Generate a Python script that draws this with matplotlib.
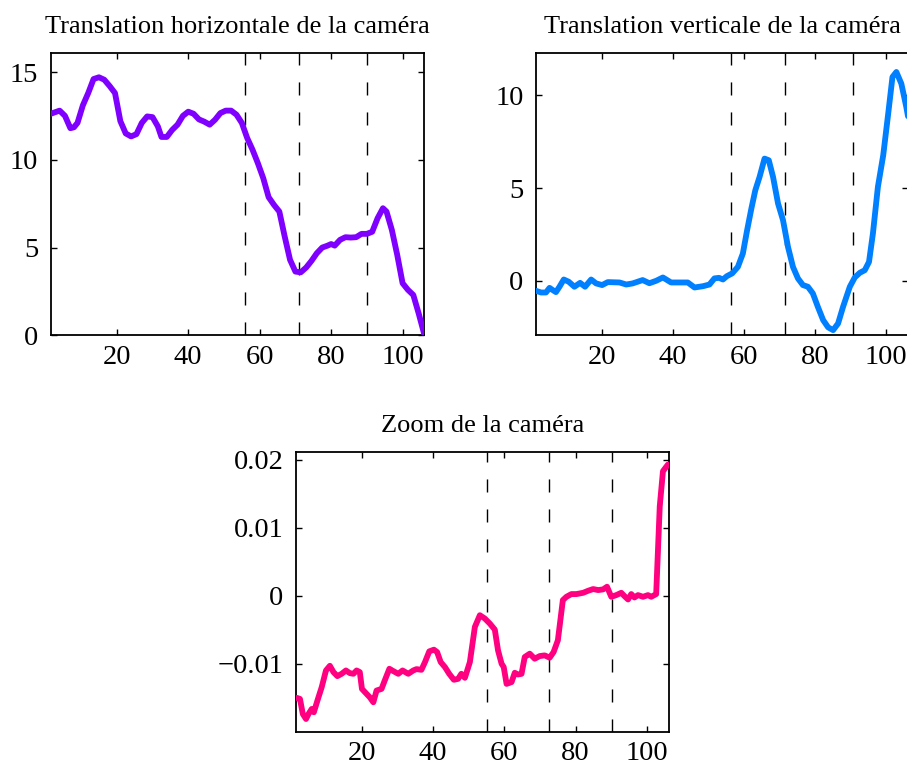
import matplotlib
matplotlib.use("Agg")
import matplotlib.pyplot as plt

plt.rcParams['font.family'] = ['Liberation Serif', 'DejaVu Serif']

# ---------------- data ----------------
titles = ["Translation horizontale de la caméra",
          "Translation verticale de la caméra",
          "Zoom de la caméra"]

x_h = [1.5, 4, 5.5, 7, 8, 9, 10.5, 12, 13.5, 15, 16.5, 18, 19.5, 21, 22.5, 24, 25.5,
       27, 28.5, 30, 31.5, 32.5, 34, 35.5, 37, 38.5, 40, 41.5, 43, 44.5, 46, 47.5, 49,
       50.5, 52, 53.5, 55, 56.5, 58, 59.5, 61, 62.5, 64, 65.5, 67, 68.5, 70, 71.5, 73,
       74.5, 76, 77.5, 79, 80, 81, 82.5, 84, 85.5, 87, 88.5, 90, 91.5, 93, 94.5, 95.5,
       97, 98.5, 100, 101.5, 103, 104.5, 106]
y_h = [12.62, 12.8, 12.5, 11.8, 11.85, 12.1, 13.1, 13.8, 14.6, 14.7, 14.56, 14.2, 13.8,
       12.2, 11.5, 11.33, 11.46, 12.1, 12.47, 12.43, 11.9, 11.3, 11.3, 11.7, 12.0, 12.5,
       12.74, 12.62, 12.3, 12.17, 12.0, 12.28, 12.66, 12.8, 12.8, 12.57, 12.1, 11.24,
       10.57, 9.8, 8.95, 7.87, 7.43, 7.05, 5.63, 4.3, 3.63, 3.59, 3.86, 4.24, 4.68, 5.0,
       5.11, 5.2, 5.11, 5.44, 5.59, 5.57, 5.59, 5.78, 5.78, 5.9, 6.67, 7.24, 7.05, 6.0,
       4.58, 2.97, 2.59, 2.3, 1.25, 0.11]

x_v = [1.5, 2.9, 4.3, 5.3, 6.2, 7.1, 8.1, 9.3, 10.7, 12.3, 13.9, 15.3, 17.0, 18.4, 20.1,
       21.7, 25.0, 26.9, 28.7, 31.5, 33.4, 35.3, 37.2, 39.5, 41.9, 44.2, 46.1, 48.5, 50.3,
       51.7, 53.0, 54.1, 55.2, 56.7, 58.3, 59.7, 60.9, 62.1, 63.2, 64.4, 65.8, 67.0, 68.2,
       69.6, 71.0, 72.4, 73.8, 75.2, 76.6, 78.0, 79.4, 80.8, 82.3, 83.7, 85.1, 86.5, 87.9,
       89.8, 91.2, 92.6, 94.0, 95.2, 96.3, 97.7, 99.2, 100.6, 101.8, 102.9, 104.3, 105.7,
       107.0]
y_v = [-0.54, -0.63, -0.63, -0.38, -0.5, -0.61, -0.32, 0.07, -0.05, -0.32, -0.11, -0.32,
       0.07, -0.14, -0.23, -0.07, -0.09, -0.2, -0.14, 0.04, -0.13, 0.0, 0.18, -0.09, -0.09,
       -0.09, -0.36, -0.29, -0.2, 0.13, 0.16, 0.07, 0.25, 0.4, 0.75, 1.47, 2.73, 3.9, 4.88,
       5.6, 6.59, 6.5, 5.6, 4.17, 3.27, 1.83, 0.75, 0.13, -0.23, -0.32, -0.68, -1.4, -2.12,
       -2.51, -2.66, -2.3, -1.4, -0.32, 0.18, 0.43, 0.57, 1.02, 2.55, 5.06, 6.77, 9.01,
       10.99, 11.26, 10.63, 9.37, 8.0]

x_z = [1.7, 2.6, 3.4, 4.3, 5.0, 5.9, 6.5, 7.5, 8.7, 9.9, 11.0, 12.0, 13.1, 14.3, 15.5,
       16.6, 17.6, 18.5, 19.4, 20.0, 21.3, 22.2, 23.2, 24.1, 25.5, 26.4, 27.7, 28.8, 30.2,
       31.4, 33.0, 34.4, 35.3, 36.7, 37.7, 38.9, 40.2, 41.1, 42.1, 43.3, 44.5, 45.8, 47.0,
       47.9, 48.9, 50.3, 51.7, 53.1, 54.5, 55.9, 57.3, 58.2, 59.2, 59.8, 60.6, 62.0, 62.9,
       63.8, 64.8, 65.7, 67.1, 68.5, 69.9, 71.3, 72.7, 73.8, 75.0, 75.7, 76.4, 77.4, 78.8,
       80.2, 82.1, 83.5, 84.9, 86.3, 87.7, 88.8, 90.0, 91.4, 92.8, 93.7, 94.7, 95.6, 96.5,
       97.5, 98.9, 100.3, 101.2, 102.6, 103.6, 104.5, 105.9]
y_z = [-0.01502, -0.01517, -0.01739, -0.01813, -0.01739, -0.01665, -0.01714, -0.01542,
       -0.01345, -0.01099, -0.0103, -0.01123, -0.01182, -0.01148, -0.01099, -0.01138,
       -0.01148, -0.01099, -0.01123, -0.0137, -0.01443, -0.01493, -0.01567, -0.01394,
       -0.0137, -0.01246, -0.01074, -0.01108, -0.01148, -0.01099, -0.01148, -0.01099,
       -0.01079, -0.01089, -0.00975, -0.00818, -0.00793, -0.00828, -0.00975, -0.01049,
       -0.01148, -0.01236, -0.01222, -0.01148, -0.01207, -0.00975, -0.00458, -0.00286,
       -0.00335, -0.00409, -0.00498, -0.00803, -0.01, -0.01049, -0.01296, -0.0127,
       -0.01133, -0.01158, -0.01148, -0.00901, -0.00852, -0.00926, -0.00887, -0.00877,
       -0.00911, -0.00828, -0.00655, -0.0036, -0.00064, -0.00015, 0.00025, 0.00025,
       0.00044, 0.00074, 0.00099, 0.00084, 0.00094, 0.00133, -0.00015, 0.0001, 0.00044,
       -0.00005, -0.00054, 0.00025, -0.00025, 0.0001, -0.00015, 0.0001, -0.00015, 0.00025,
       0.01315, 0.01833, 0.01931]

events_h = [56, 71, 90]
events_v = [56.3, 71.6, 90.7]
events_z = [55, 72.6, 90.2]

xticks = [20, 40, 60, 80, 100]
yticks_h = [0, 5, 10, 15]
yticks_v = [0, 5, 10]
yticks_z = [-0.01, 0, 0.01, 0.02]
yticklabels_z = ["\u22120.01", "0", "0.01", "0.02"]

colors = ["#8000FF", "#0080FF", "#FF0080"]

# ---------------- figure ----------------
fig = plt.figure(figsize=(9.07, 7.67), dpi=100)
ax1 = fig.add_axes([0.0559, 0.5628, 0.4116, 0.3685])
ax2 = fig.add_axes([0.5910, 0.5628, 0.4106, 0.3685])
ax3 = fig.add_axes([0.3264, 0.0460, 0.4116, 0.3651])

panels = [
    (ax1, x_h, y_h, events_h, yticks_h, None, (1.5, 106), (0, 16.1), titles[0], colors[0]),
    (ax2, x_v, y_v, events_v, yticks_v, None, (1.5, 106.3), (-2.94, 12.3), titles[1], colors[1]),
    (ax3, x_z, y_z, events_z, yticks_z, yticklabels_z, (1.5, 106.3), (-0.02, 0.0212), titles[2], colors[2]),
]

for ax, xs, ys, ev, yt, ytl, xl, yl, title, col in panels:
    ax.plot(xs, ys, color=col, lw=4.2, solid_joinstyle='round', solid_capstyle='round', zorder=3)
    for e in ev:
        ax.axvline(e, color='black', lw=1.0, dashes=(9.4, 12.2), zorder=2)
    ax.set_xlim(*xl)
    ax.set_ylim(*yl)
    ax.set_xticks(xticks)
    ax.set_xticklabels([str(t) for t in xticks])
    ax.set_yticks(yt)
    if ytl is None:
        ax.set_yticklabels([str(t) for t in yt])
    else:
        ax.set_yticklabels(ytl)
    ax.tick_params(direction='in', top=True, right=True, length=4, width=1.0,
                   labelsize=20.5, pad=9)
    ax.tick_params(axis='x', pad=7)
    for s in ax.spines.values():
        s.set_linewidth(1.3)
    ax.set_title(title, fontsize=19, pad=14)

fig.savefig("out.png", dpi=100)
